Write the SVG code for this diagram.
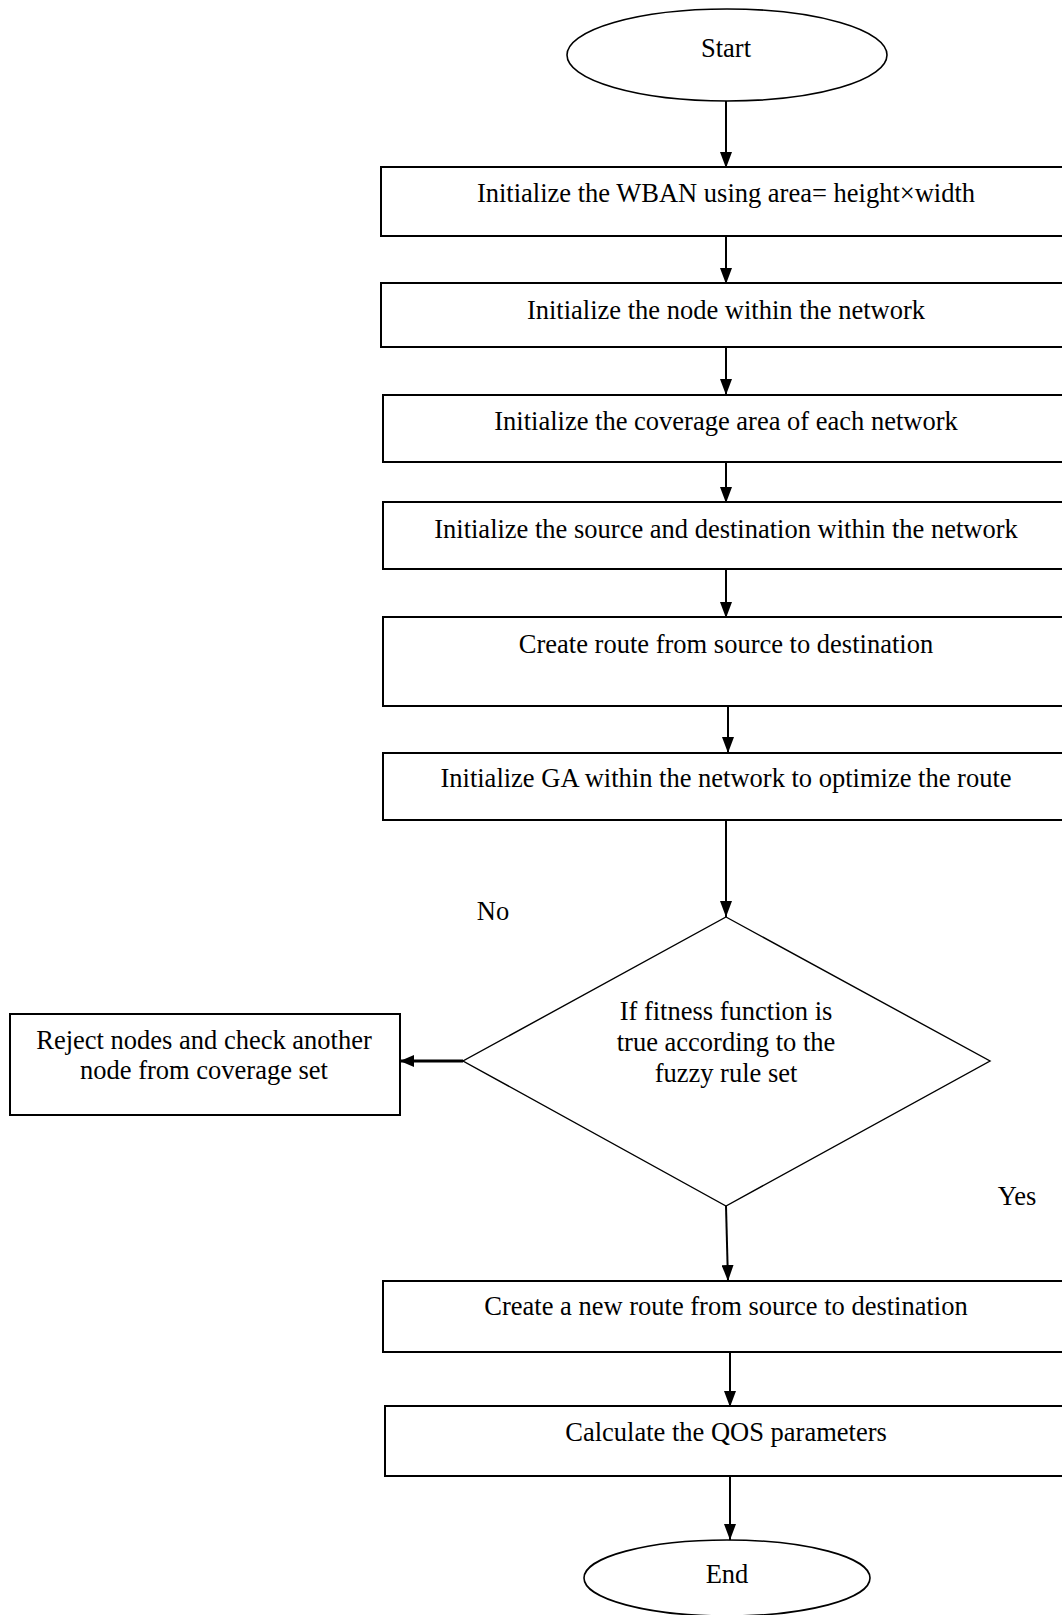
<svg xmlns="http://www.w3.org/2000/svg" width="1062" height="1615" viewBox="0 0 1062 1615">
<defs>
<style>
.t{font-family:"Liberation Serif","Times New Roman",serif;font-size:26.5px;fill:#000;text-anchor:middle}
.box{fill:#fff;stroke:#000;stroke-width:2}
.term{fill:#fff;stroke:#000;stroke-width:1.6}
.dia{fill:#fff;stroke:#000;stroke-width:1.4}
.ar{fill:none;stroke:#000;stroke-width:2;marker-end:url(#ah)}
</style>
<marker id="ah" markerUnits="userSpaceOnUse" markerWidth="16" markerHeight="12" refX="16" refY="6" orient="auto">
<path d="M0,0 L16,6 L0,12 Z" fill="#000"/>
</marker>
<marker id="ah2" markerUnits="userSpaceOnUse" markerWidth="14" markerHeight="12" refX="14" refY="6" orient="auto">
<path d="M0,0 L14,6 L0,12 Z" fill="#000"/>
</marker>
</defs>
<rect width="1062" height="1615" fill="#fff"/>
<g id="connectors">
<line class="ar" x1="726" y1="101" x2="726" y2="168"/>
<line class="ar" x1="726" y1="237" x2="726" y2="284"/>
<line class="ar" x1="726" y1="348" x2="726" y2="395"/>
<line class="ar" x1="726" y1="463" x2="726" y2="503"/>
<line class="ar" x1="726" y1="570" x2="726" y2="618"/>
<line class="ar" x1="728" y1="707" x2="728" y2="753"/>
<line class="ar" x1="726" y1="821" x2="726" y2="917"/>
<line x1="463" y1="1061" x2="400" y2="1061" stroke="#000" stroke-width="3" marker-end="url(#ah2)"/>
<line class="ar" x1="726" y1="1206" x2="728" y2="1281"/>
<line class="ar" x1="730" y1="1353" x2="730" y2="1407"/>
<line class="ar" x1="730" y1="1477" x2="730" y2="1540"/>
</g>
<g id="start">
<ellipse class="term" cx="727" cy="55" rx="160" ry="46"/>
<text class="t" x="726" y="57">Start</text>
</g>
<g id="n1">
<rect class="box" x="381" y="167" width="700" height="69"/>
<text class="t" x="726" y="202">Initialize the WBAN using area= height×width</text>
</g>
<g id="n2">
<rect class="box" x="381" y="283" width="700" height="64"/>
<text class="t" x="726" y="319">Initialize the node within the network</text>
</g>
<g id="n3">
<rect class="box" x="383" y="395" width="700" height="67"/>
<text class="t" x="726" y="430">Initialize the coverage area of each network</text>
</g>
<g id="n4">
<rect class="box" x="383" y="502" width="700" height="67"/>
<text class="t" x="726" y="538">Initialize the source and destination within the network</text>
</g>
<g id="n5">
<rect class="box" x="383" y="617" width="700" height="89"/>
<text class="t" x="726" y="653">Create route from source to destination</text>
</g>
<g id="n6">
<rect class="box" x="383" y="753" width="700" height="67"/>
<text class="t" x="726" y="787">Initialize GA within the network to optimize the route</text>
</g>
<g id="decision">
<polygon class="dia" points="726,917 990,1061 726,1206 463,1061"/>
<text class="t" x="726" y="1020">If fitness function is</text>
<text class="t" x="726" y="1051">true according to the</text>
<text class="t" x="726" y="1082">fuzzy rule set</text>
</g>
<g id="reject">
<rect class="box" x="10" y="1014" width="390" height="101"/>
<text class="t" x="204" y="1049">Reject nodes and check another</text>
<text class="t" x="204" y="1079">node from coverage set</text>
</g>
<g id="labels">
<text class="t" x="493" y="920">No</text>
<text class="t" x="1017" y="1205">Yes</text>
</g>
<g id="n7">
<rect class="box" x="383" y="1281" width="700" height="71"/>
<text class="t" x="726" y="1315">Create a new route from source to destination</text>
</g>
<g id="n8">
<rect class="box" x="385" y="1406" width="700" height="70"/>
<text class="t" x="726" y="1441">Calculate the QOS parameters</text>
</g>
<g id="end">
<ellipse class="term" cx="727" cy="1578" rx="143" ry="38"/>
<text class="t" x="727" y="1583">End</text>
</g>
</svg>
